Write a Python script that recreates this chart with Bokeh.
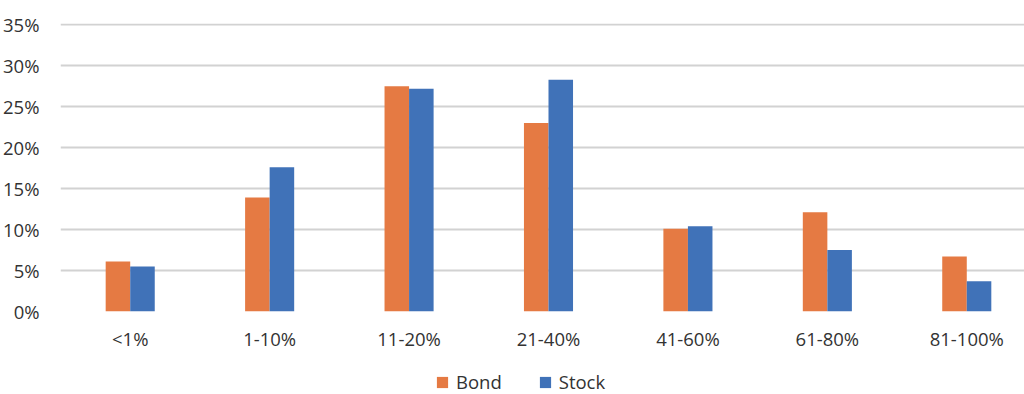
from bokeh.plotting import figure
from bokeh.layouts import column
from bokeh.models import (ColumnDataSource, Range1d, FixedTicker, PrintfTickFormatter,
                          Legend, LegendItem, CDSView, IndexFilter)
from bokeh.transform import dodge
from bokeh.embed import file_html
from bokeh.resources import INLINE

# Share of holdings per weight bucket, in percent
categories = ["<1%", "1-10%", "11-20%", "21-40%", "41-60%", "61-80%", "81-100%"]
bond = [6.1, 13.9, 27.5, 23.0, 10.1, 12.1, 6.7]
stock = [5.5, 17.6, 27.2, 28.3, 10.4, 7.5, 3.7]
y_ticks = [0, 5, 10, 15, 20, 25, 30, 35]
series = ["Bond", "Stock"]

BOND_COLOR = "#E57A43"
STOCK_COLOR = "#4072B8"
TEXT_COLOR = "#333333"
FONT = "Open Sans"

src = ColumnDataSource(dict(pos=list(range(len(categories))), bond=bond, stock=stock))

p = figure(width=1024, height=353, output_backend="svg", toolbar_location=None,
           x_range=Range1d(-0.5, 6.414), y_range=Range1d(0, 35.15),
           min_border_left=60, min_border_right=0, min_border_top=23, min_border_bottom=38)
p.outline_line_color = None
p.background_fill_color = "white"
p.border_fill_color = "white"

bar_w = 0.176
p.vbar(x=dodge("pos", -bar_w / 2, range=p.x_range), top="bond", width=bar_w,
       source=src, fill_color=BOND_COLOR, line_color=None)
p.vbar(x=dodge("pos", bar_w / 2, range=p.x_range), top="stock", width=bar_w,
       source=src, fill_color=STOCK_COLOR, line_color=None)

# grid
p.xgrid.grid_line_color = None
p.ygrid.ticker = FixedTicker(ticks=y_ticks)
p.ygrid.grid_line_color = "#d2d2d2"
p.ygrid.grid_line_width = 2

# axes
p.yaxis.ticker = FixedTicker(ticks=y_ticks)
p.yaxis.formatter = PrintfTickFormatter(format="%d%%")
p.xaxis.ticker = FixedTicker(ticks=list(range(len(categories))))
p.xaxis.major_label_overrides = {i: c for i, c in enumerate(categories)}
for ax in (p.xaxis, p.yaxis):
    ax.axis_line_color = None
    ax.major_tick_line_color = None
    ax.minor_tick_line_color = None
    ax.major_label_text_font = FONT
    ax.major_label_text_font_size = "18.5px"
    ax.major_label_text_color = TEXT_COLOR
p.yaxis.major_label_standoff = 15
p.xaxis.major_label_standoff = 8

# legend strip underneath the chart; its swatch renderers lie outside the strip's view
leg_fig = figure(width=1024, height=41, output_backend="svg", toolbar_location=None,
                 x_range=Range1d(1000, 1001), y_range=Range1d(1000, 1001),
                 x_axis_location=None, y_axis_location=None,
                 min_border=0, outline_line_color=None)
leg_fig.grid.visible = False
r_bond = leg_fig.vbar(x="pos", top="bond", width=bar_w, source=src,
                      view=CDSView(filter=IndexFilter(indices=[0])),
                      fill_color=BOND_COLOR, line_color=None)
r_stock = leg_fig.vbar(x="pos", top="stock", width=bar_w, source=src,
                       view=CDSView(filter=IndexFilter(indices=[0])),
                       fill_color=STOCK_COLOR, line_color=None)
legend = Legend(items=[LegendItem(label=series[0], renderers=[r_bond]),
                       LegendItem(label=series[1], renderers=[r_stock])],
                orientation="horizontal", location=(375, 0),
                glyph_width=14, glyph_height=14, label_standoff=7, spacing=36,
                padding=0, margin=0, border_line_color=None,
                background_fill_alpha=0,
                label_text_font=FONT, label_text_font_size="18.5px",
                label_text_color=TEXT_COLOR)
leg_fig.add_layout(legend, "center")

layout = column(p, leg_fig, spacing=0)
open("out.html", "w").write(file_html(layout, INLINE))
